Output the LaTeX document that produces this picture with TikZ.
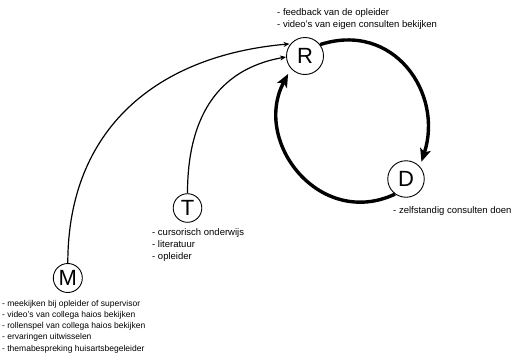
\documentclass[tikz,border=0pt]{standalone}
\usepackage{fontspec}
\setmainfont{Liberation Sans}
\usetikzlibrary{arrows.meta}
\begin{document}
\begin{tikzpicture}[x=1pt,y=1pt,
  state/.style={circle,draw,line width=0.9pt,inner sep=0pt,font=\fontsize{22}{22}\selectfont},
  note/.style={anchor=base west,inner sep=0pt,font=\fontsize{9.5}{12.2}\selectfont},
  smallnote/.style={anchor=base west,inner sep=0pt,font=\fontsize{8.5}{11.3}\selectfont},
  feedarrow/.style={line width=1.2pt,-{Stealth[length=6pt,width=5pt]}},
  looparrow/.style={line width=3.4pt,-{Stealth[length=13pt,width=11pt,inset=3pt]}}]
\useasboundingbox (0,0) rectangle (513,-356);
\node[state,minimum size=37pt] (R) at (305,-56) {R};
\node[state,minimum size=36.5pt] (D) at (406,-179) {D};
\node[state,minimum size=28.6pt] (T) at (187.5,-208) {T};
\node[state,minimum size=29pt] (M) at (67.8,-278) {M};
\node[note] (Rt) at (277,-15.5) {\begin{tabular}[t]{@{}l@{}}- feedback van de opleider\\- video's van eigen consulten bekijken\end{tabular}};
\node[note] (Dt) at (393,-213) {- zelfstandig consulten doen};
\node[note] (Tt) at (152,-235) {\begin{tabular}[t]{@{}l@{}}- cursorisch onderwijs\\- literatuur\\- opleider\end{tabular}};
\node[smallnote] (Mt) at (2,-306) {\begin{tabular}[t]{@{}l@{}}- meekijken bij opleider of supervisor\\- video's van collega haios bekijken\\- rollenspel van collega haios bekijken\\- ervaringen uitwisselen\\- themabespreking huisartsbegeleider\end{tabular}};
\draw[feedarrow,shorten >=1pt] (M.north) to[out=90,in=185,looseness=1.1] (R.140);
\draw[feedarrow] (T.north) to[out=90,in=190,looseness=1.1] (R.183);
\draw[looparrow,shorten >=5pt] (R.37) to[out=18,in=72,looseness=1.25] (D.42);
\draw[looparrow,shorten >=6pt] (D.234) to[out=205,in=242,looseness=1.3] (R.222);
\end{tikzpicture}
\end{document}
